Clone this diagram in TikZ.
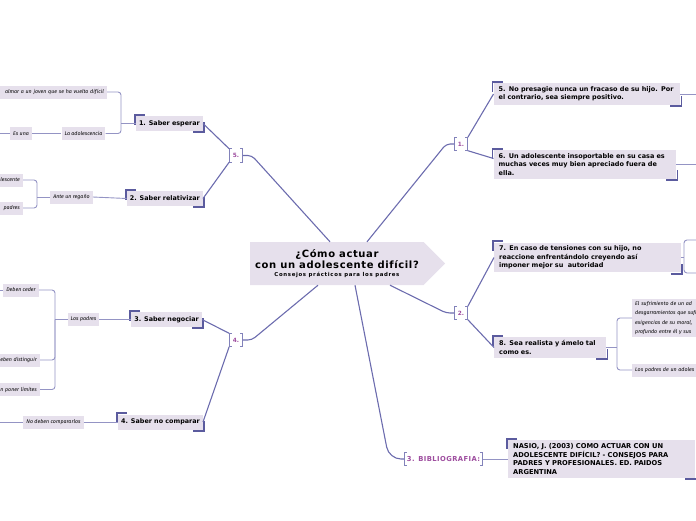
\documentclass[tikz,border=0pt]{standalone}
\usepackage{fontspec}
\setmainfont{Fira Sans}
\newfontfamily\heavyfont{DejaVu Sans}
\newfontfamily\titlefont{DejaVu Sans}[LetterSpace=6]
\newfontfamily\subfont{DejaVu Sans}[LetterSpace=12]
\newfontfamily\numfont{DejaVu Sans}[LetterSpace=6]
\usetikzlibrary{shapes.symbols,positioning}
\definecolor{boxfill}{HTML}{E6E0EC}
\definecolor{edgecol}{HTML}{5B5B9E}
\definecolor{linkcol}{HTML}{6C6CAE}
\definecolor{forkcol}{HTML}{9494C4}
\definecolor{numcol}{HTML}{9D4C9E}

\begin{document}
\begin{tikzpicture}[x=1pt, y=-1pt,
    topic/.style={fill=boxfill, font=\heavyfont\bfseries\fontsize{6.4}{8}\selectfont, inner xsep=3pt, minimum height=15pt, anchor=east},
    idea/.style={fill=boxfill, font=\heavyfont\bfseries\fontsize{6.5}{8.3}\selectfont, align=left, anchor=west, inner xsep=5pt, inner ysep=3.5pt},
    leaf/.style={fill=boxfill, font=\itshape\fontsize{5.3}{6}\selectfont, inner xsep=3pt, minimum height=13pt},
    num/.style={text=numcol, font=\heavyfont\bfseries\fontsize{5.8}{7}\selectfont, inner xsep=3.5pt, minimum height=13pt},
    link/.style={draw=linkcol, line width=1.1pt},
    fork/.style={draw=forkcol, line width=0.9pt, rounded corners=3pt},
    corner/.style={draw=edgecol, line width=1.8pt},
    bracket/.style={draw=linkcol!85, line width=0.9pt}
]
\useasboundingbox (0,0) rectangle (696,520);

% central idea
\node[signal, signal to=east, signal pointer angle=90, fill=boxfill, minimum width=195pt, minimum height=43pt,
      anchor=west, align=center, inner sep=0pt, font=\titlefont\bfseries\fontsize{10}{11}\selectfont] (c) at (250,263.5)
  {¿Cómo actuar\\con un adolescente difícil?\\[-3pt]
   {\subfont\bfseries\fontsize{5.4}{6}\selectfont Consejos prácticos para los padres}};

% numbered groups
\node[num] (g5) at (236,155.5) {5.};
\node[num] (g4) at (236,340) {4.};
\node[num] (g1) at (461,144) {1.};
\node[num] (g2) at (461,313) {2.};
\node[num, font=\numfont\bfseries\fontsize{6.8}{8}\selectfont, inner xsep=2.5pt] (gbib) at (443.5,459) {3. BIBLIOGRAFIA:};

% left topics
\node[topic] (esperar) at (203,123.5) {1. Saber esperar};
\node[topic] (relativizar) at (203,198.5) {2. Saber relativizar};
\node[topic] (negociar) at (202,319.5) {3. Saber negociar};
\node[topic] (comparar) at (203,422) {4. Saber no comparar};

% right topics
\node[idea, text width=176.5pt] (presagie) at (493.5,94) {5. No presagie nunca un fracaso de su hijo. Por\\el contrario, sea siempre positivo.};
\node[idea, text width=172.5pt] (insoportable) at (493.5,164.5) {6. Un adolescente insoportable en su casa es\\muchas veces muy bien apreciado fuera de\\ella.};
\node[idea, text width=176.5pt] (tensiones) at (494,257.5) {7. En caso de tensiones con su hijo, no\\reaccione enfrentándolo creyendo así\\imponer mejor su\ \ autoridad};
\node[idea, text width=102pt] (realista) at (494,347.5) {8. Sea realista y ámelo tal\\como es.};
\node[idea, text width=177pt, font=\heavyfont\bfseries\fontsize{6.7}{8.7}\selectfont] (nasio) at (508,459) {NASIO, J. (2003) COMO ACTUAR CON UN\\ADOLESCENTE DIFÍCIL? - CONSEJOS PARA\\PADRES Y PROFESIONALES. ED. PAIDOS\\ARGENTINA};

% leaves
\node[leaf, anchor=east, text width=112pt, align=right] (calmar) at (107,92) {almar a un joven que se ha vuelto difícil};
\node[leaf] (adolesc) at (83.5,133.5) {La adolescencia};
\node[leaf] (esuna) at (21,133.5) {Es una};
\node[leaf] (regano) at (71.5,197) {Ante un regaño};
\node[leaf, anchor=east, text width=40pt, align=right] (lescente) at (23,180) {lescente};
\node[leaf, anchor=east, text width=40pt, align=right] (padresa) at (23,208) {padres};
\node[leaf] (lospadres) at (83.5,319.5) {Los padres};
\node[leaf] (ceder) at (21,290) {Deben ceder};
\node[leaf, anchor=east, text width=45pt, align=right] (distinguir) at (40,360) {eben distinguir};
\node[leaf, anchor=east, text width=45pt, align=right] (limites) at (40,389.5) {n poner límites};
\node[leaf] (nocomp) at (53.5,422) {No deben compararlos};
\node[leaf, anchor=west, text width=80pt, align=left, font=\itshape\fontsize{5.3}{9.5}\selectfont, inner ysep=2pt] (sufrim) at (632,318)
  {El sufrimiento de un ad\\desgarramientos que sufr\\exigencias de su moral,\\profundo entre él y sus};
\node[leaf, anchor=west, text width=80pt, align=left] (lospadresb) at (632,370) {Los padres de un adoles};

% fork points and free ends
\coordinate (fesp) at (121,123.5);
\coordinate (frel) at (37,197);
\coordinate (fneg) at (55,319.5);
\coordinate (ften) at (684,257.5);
\coordinate (freal) at (617,347.5);
\coordinate (fbib) at (389,459);
\coordinate (lefta) at (0,133.5);
\coordinate (leftc) at (0,290);
\coordinate (leftd) at (0,422);
\coordinate (right5) at (697,94);
\coordinate (right6) at (697,164.5);
\coordinate (right7a) at (697,240);
\coordinate (right7b) at (697,273);

% corner marks and brackets
\foreach \n in {esperar,relativizar,negociar,comparar,presagie,insoportable,tensiones,realista,nasio}{
  \draw[corner] ([shift={(9pt,1pt)}]\n.north west) -| ([shift={(-1pt,-9pt)}]\n.north west);
  \draw[corner] ([shift={(-10pt,-1pt)}]\n.south east) -| ([shift={(1pt,9pt)}]\n.south east);
}
\foreach \n in {g5,g4,g1,g2,gbib}{
  \draw[bracket] ([xshift=2.5pt]\n.north west) -- (\n.north west) -- (\n.south west) -- ([xshift=2.5pt]\n.south west);
  \draw[bracket] ([xshift=-2.5pt]\n.north east) -- (\n.north east) -- (\n.south east) -- ([xshift=-2.5pt]\n.south east);
}

% main links
\draw[link, rounded corners=4pt] (g5.east) -- ++(9pt,0) -- ([xshift=80pt]c.north west);
\draw[link, rounded corners=4pt] (g1.west) -- ++(-8pt,0) -- ([xshift=117pt]c.north west);
\draw[link, rounded corners=4pt] (g4.east) -- ++(9pt,0) -- ([xshift=68pt]c.south west);
\draw[link, rounded corners=4pt] (g2.west) -- ++(-8pt,0) -- ([xshift=140pt]c.south west);
\draw[link, rounded corners=12pt] ([xshift=105pt]c.south west) -- (fbib) -- (gbib.west);
\draw[link] (esperar.east) -- (g5.north west);
\draw[link] (relativizar.east) -- (g5.south west);
\draw[link] (negociar.east) -- (g4.north west);
\draw[link] (comparar.east) -- (g4.south west);
\draw[link] (g1.north east) -- (presagie.west);
\draw[link] (g1.south east) -- ([yshift=6pt]insoportable.west);
\draw[link] (g2.north east) -- (tensiones.west);
\draw[link] (g2.south east) -- (realista.west);

% branches
\draw[fork] (calmar.east) -| (fesp) |- (adolesc.east);
\draw[fork] (fesp) -- (esperar.west);
\draw[fork] (esuna) -- (adolesc);
\draw[fork] (lefta) -- (esuna);
\draw[fork] (lescente.east) -| (frel) |- (padresa.east);
\draw[fork] (frel) -- (regano.west);
\draw[fork] (regano.east) -- (relativizar.west);
\draw[fork] (ceder.east) -| (fneg) |- (limites.east);
\draw[fork] (distinguir.east) -| (fneg);
\draw[fork] (fneg) -- (lospadres.west);
\draw[fork] (lospadres.east) -- (negociar.west);
\draw[fork] (leftc) -- (ceder.west);
\draw[fork] (leftd) -- (nocomp.west);
\draw[fork] (nocomp.east) -- (comparar.west);
\draw[fork] (presagie.east) -- (right5);
\draw[fork] (insoportable.east) -- (right6);
\draw[fork] (right7a) -| (ften) |- (right7b);
\draw[fork] (tensiones.east) -- (ften);
\draw[fork] (sufrim.west) -| (freal) |- (lospadresb.west);
\draw[fork] (realista.east) -- (freal);
\draw[fork] (gbib.east) -- (nasio.west);
\end{tikzpicture}
\end{document}
